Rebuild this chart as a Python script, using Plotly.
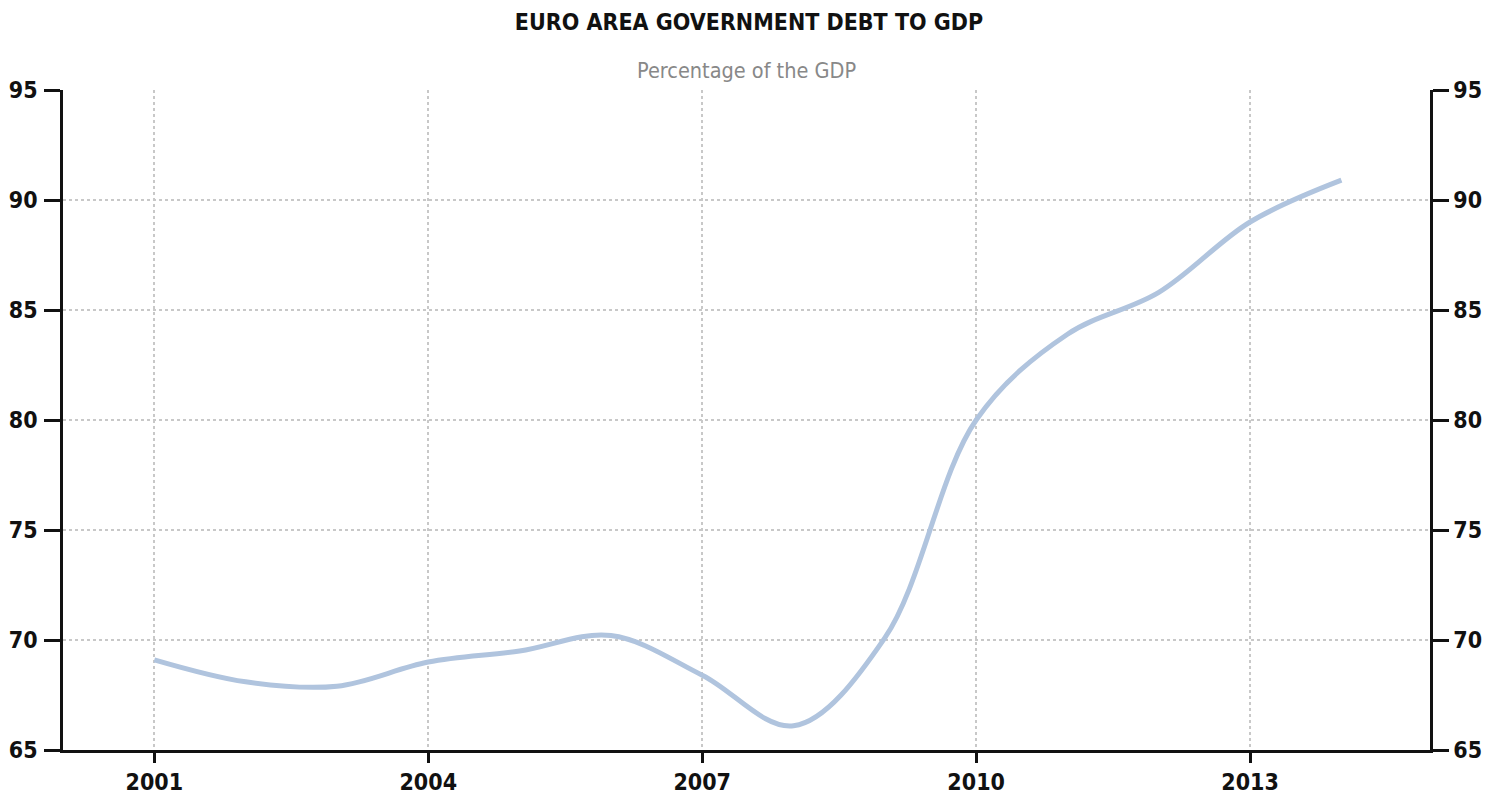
import plotly.graph_objects as go

years = [2001, 2002, 2003, 2004, 2005, 2006, 2007, 2008, 2009, 2010, 2011, 2012, 2013, 2014]
debt_pct_gdp = [69.1, 68.1, 67.9, 69.0, 69.5, 70.2, 68.4, 66.1, 70.1, 80.0, 83.9, 85.8, 89.0, 90.9]

x_ticks = [2001, 2004, 2007, 2010, 2013]
y_ticks = [65, 70, 75, 80, 85, 90, 95]

title_text = "EURO AREA GOVERNMENT DEBT TO GDP"
subtitle_text = "Percentage of the GDP"

FONT = "DejaVu Sans Condensed, DejaVu Sans, sans-serif"

fig = go.Figure()
fig.add_trace(go.Scatter(
    x=years, y=debt_pct_gdp, mode="lines",
    line=dict(color="#b0c4de", width=5, shape="spline", smoothing=1.0),
    showlegend=False, hoverinfo="x+y",
))
# invisible copy so the right-hand axis is drawn
fig.add_trace(go.Scatter(
    x=years, y=debt_pct_gdp, mode="lines", yaxis="y2",
    line=dict(color="rgba(0,0,0,0)", width=0),
    showlegend=False, hoverinfo="skip",
))

tickfont = dict(family=FONT, size=23, color="#111111", weight="bold")

fig.update_layout(
    width=1482, height=792,
    paper_bgcolor="white", plot_bgcolor="white",
    margin=dict(l=55, r=60, t=82, b=50),
    title=dict(text=title_text, x=0.5, xanchor="center", y=0.982, yanchor="middle",
               automargin=False,
               font=dict(family=FONT, size=23, color="#111111", weight="bold")),
    annotations=[dict(text=subtitle_text, xref="paper", yref="paper", x=0.5, y=1.0,
                      yshift=20, xanchor="center", yanchor="middle", showarrow=False,
                      font=dict(family=FONT, size=21.5, color="#888888"))],
    xaxis=dict(
        range=[2000.0, 2014.97], tickvals=x_ticks, ticktext=[str(v) for v in x_ticks],
        showgrid=True, gridcolor="#c8c8c8", griddash="dot", gridwidth=1.5,
        showline=True, linecolor="#111111", linewidth=2.5,
        ticks="outside", ticklen=10, tickwidth=2.5, tickcolor="#111111",
        tickfont=tickfont, zeroline=False, ticklabelstandoff=0, automargin=False,
    ),
    yaxis=dict(
        range=[65, 95], tickvals=y_ticks,
        showgrid=True, gridcolor="#c8c8c8", griddash="dot", gridwidth=1.5,
        showline=True, linecolor="#111111", linewidth=2.5,
        ticks="outside", ticklen=16, tickwidth=2.5, tickcolor="#111111",
        tickfont=tickfont, zeroline=False, ticklabelstandoff=2, automargin=False,
    ),
    yaxis2=dict(
        range=[65, 95], tickvals=y_ticks, overlaying="y", side="right", anchor="x",
        showgrid=False,
        showline=True, linecolor="#111111", linewidth=2.5,
        ticks="outside", ticklen=16, tickwidth=2.5, tickcolor="#111111",
        tickfont=tickfont, zeroline=False, ticklabelstandoff=0, automargin=False,
    ),
)

fig.write_html("out.html")
